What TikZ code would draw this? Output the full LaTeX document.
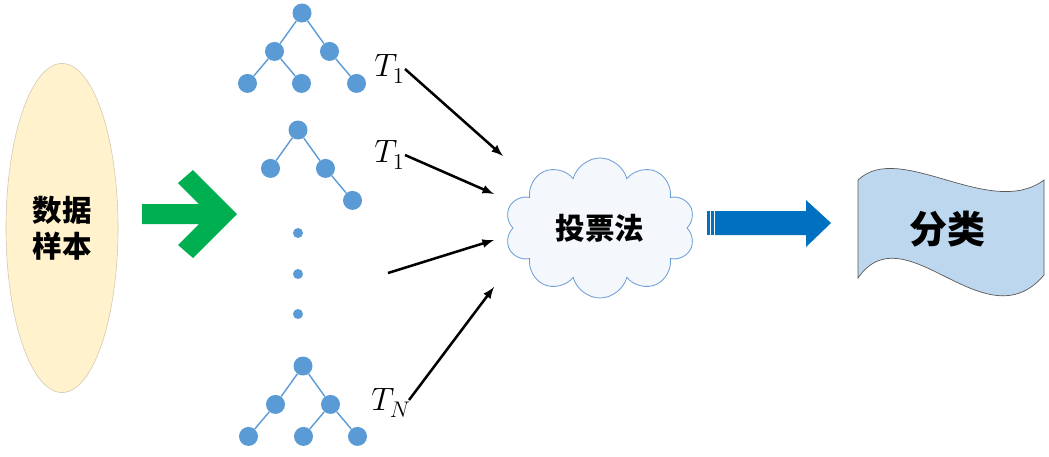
\RequirePackage{fix-cm}
\documentclass[tikz,border=0pt]{standalone}
\usepackage{fontspec}
\newfontfamily\cjk{Noto Sans CJK SC}
\usetikzlibrary{positioning,shapes,arrows}
\definecolor{treeblue}{HTML}{5B9BD5}
\definecolor{samplefill}{HTML}{FFF2CC}
\definecolor{sampleline}{HTML}{CFC8B0}
\definecolor{arrowgreen}{HTML}{00B050}
\definecolor{arrowblue}{HTML}{0070C0}
\definecolor{docfill}{HTML}{BDD7EE}
\definecolor{cloudline}{HTML}{6F9FD8}
\definecolor{cloudfill}{HTML}{F4F7FB}
\newcommand{\sub}[1]{_{\lower2pt\hbox{$\scriptstyle #1$}}}

\begin{document}
\begin{tikzpicture}[x=0.025cm,y=-0.025cm,
	dot/.style={circle,fill=treeblue,minimum size=0.475cm,inner sep=0pt},
	smalldot/.style={circle,fill=treeblue,minimum size=0.25cm,inner sep=0pt},
	level 1/.style={level distance=0.96cm,sibling distance=1.375cm},
	level 2/.style={level distance=0.8cm,sibling distance=1.35cm},
	edge from parent/.style={draw=treeblue,line width=1pt},
	lab/.style={font=\fontsize{23}{26}\selectfont,inner sep=0pt,anchor=base west},
	zh/.style={font=\cjk\bfseries\fontsize{21}{25.6}\selectfont,align=center},
	bigzh/.style={font=\cjk\bfseries\fontsize{27}{30}\selectfont}]
\useasboundingbox (0,0) rectangle (1049,456);
\node [ellipse,draw=sampleline,fill=samplefill,minimum width=2.8cm,minimum height=8.225cm,zh] (sample) at (62,228) {数据\\样本};
\fill[arrowgreen] (142,204) -- (199,204) -- (178,183) -- (193,170) -- (237,214) -- (193,258) -- (178,245) -- (199,224) -- (142,224) -- cycle;
\node [dot] (r1) at (302,13) {}
	child {node [dot] (r1a) {}
		child {node [dot] (r1aa) {}}
		child {node [dot] (r1ab) {}}
	}
	child {node [dot] (r1b) {}
		child [missing]
		child {node [dot] (r1bb) {}}
	};
\node [dot] (r2) at (298,130) {}
	child {node [dot] (r2a) {}}
	child {node [dot] (r2b) {}
		child [missing]
		child {node [dot] (r2bb) {}}
	};
\node [dot] (rN) at (303,366) {}
	child {node [dot] (rNa) {}
		child {node [dot] (rNaa) {}}
		child [missing]
	}
	child {node [dot] (rNb) {}
		child {node [dot] (rNba) {}}
		child {node [dot] (rNbb) {}}
	};
\foreach \y/\n in {233/d1,274/d2,314/d3}
	\node [smalldot] (\n) at (298,\y) {};
\node [lab] (l1) at (374,76) {$T\sub{1}$};
\node [lab] (l2) at (374,162) {$T\sub{1}$};
\node [lab] (lN) at (371,410) {$T\sub{N}$};
\coordinate (s1) at (405,69);
\coordinate (e1) at (503,156);
\coordinate (s2) at (405,155);
\coordinate (e2) at (494,194);
\coordinate (s3) at (388,273);
\coordinate (e3) at (494,240);
\coordinate (s4) at (409,400);
\coordinate (e4) at (494,287);
\foreach \i in {1,...,4}
	\draw[-latex,line width=1.8pt] (s\i) -- (e\i);
\node [cloud,cloud puffs=10,aspect=1.4,draw=cloudline,fill=cloudfill,line width=0.6pt,minimum width=4.75cm,minimum height=3.5cm,zh] (vote) at (600,228) {投票法};
\fill[arrowblue] (715,211) -- (806,211) -- (806,200) -- (831,223) -- (806,247) -- (806,235) -- (715,235) -- cycle;
\fill[arrowblue] (707,211) rectangle (709.5,235);
\fill[arrowblue] (711,211) rectangle (713.5,235);
\filldraw[fill=docfill,draw=gray!70!black,line width=0.5pt] (858,180) .. controls (900,140) and (990,220) .. (1044,180) -- (1044,275) .. controls (985,345) and (905,210) .. (858,278) -- cycle;
\node [bigzh] (cls) at (947,229) {分类};
\end{tikzpicture}
\end{document}
